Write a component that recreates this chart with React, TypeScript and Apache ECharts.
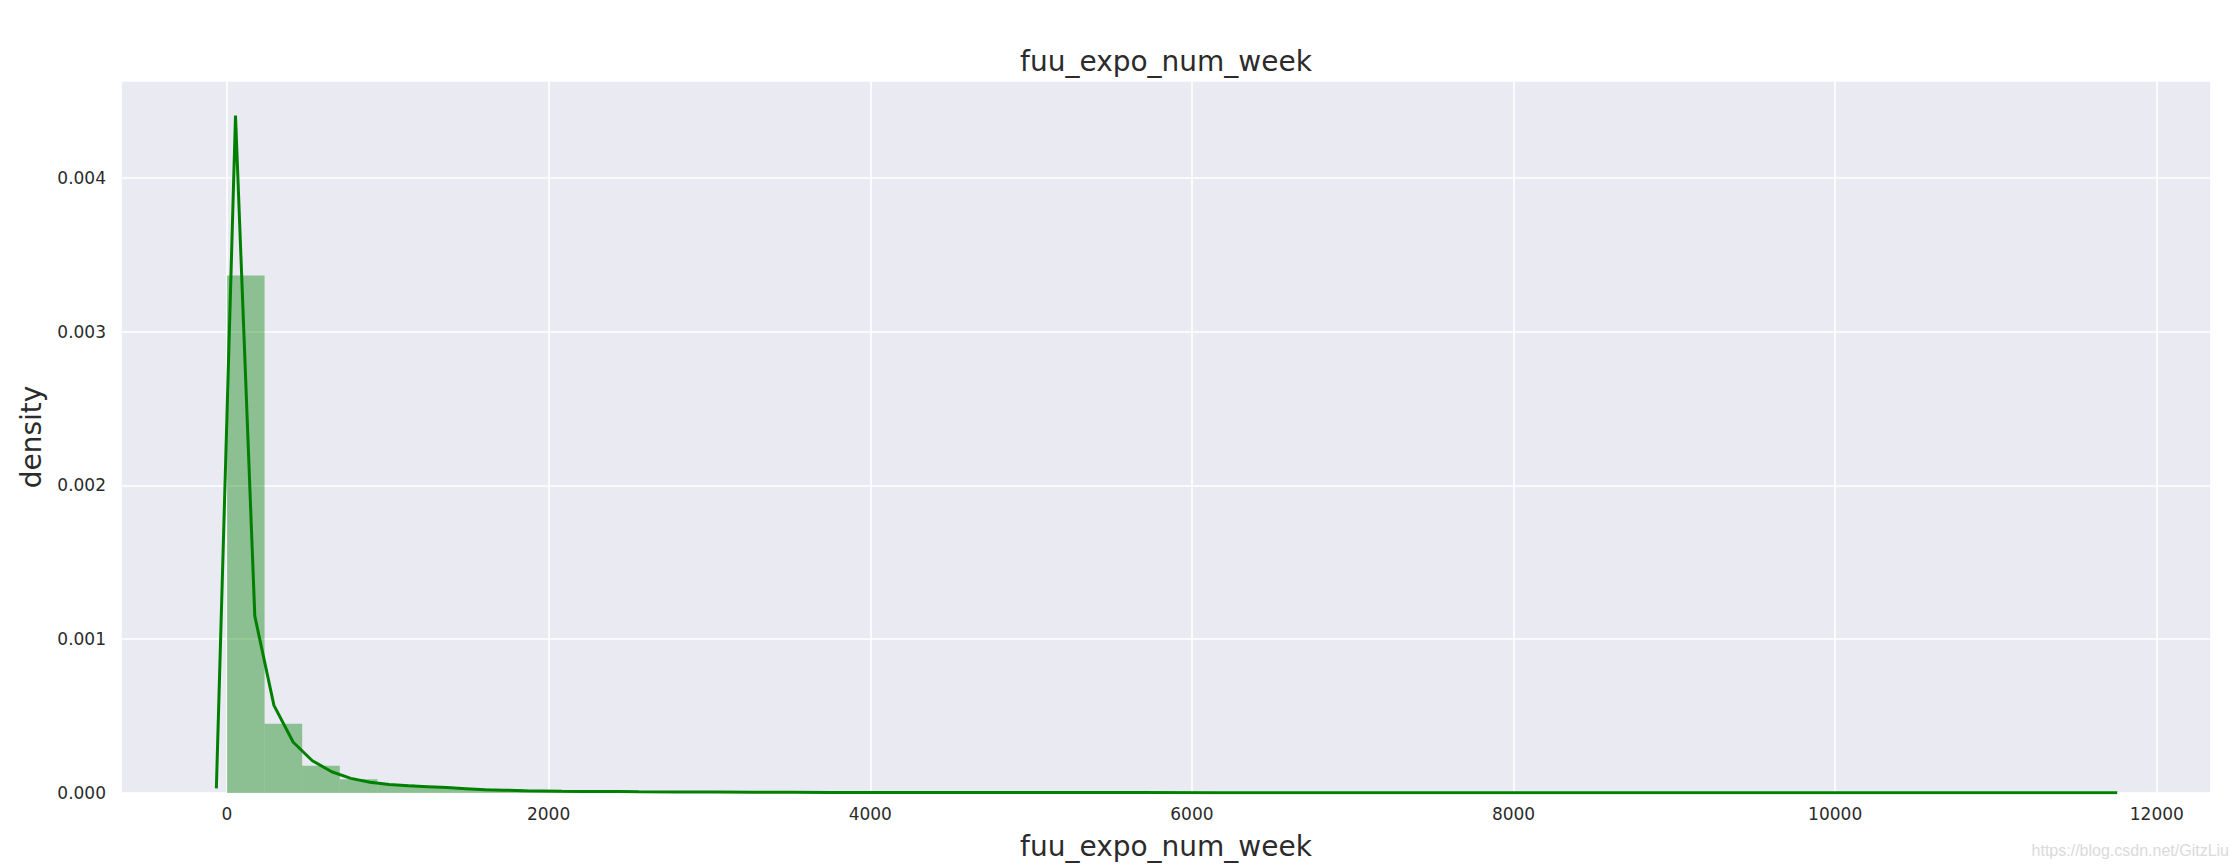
import React, { useEffect, useRef } from 'react';
import * as echarts from 'echarts';

// ---- data ----
const titleText = 'fuu_expo_num_week';
const xLabelText = 'fuu_expo_num_week';
const yLabelText = 'density';
const watermarkText = 'https://blog.csdn.net/GitzLiu';

// histogram: 50 equal bins starting at 0
const binStart = 0;
const binWidth = 233.76;
const histDensity = [
  0.003365, 0.00045, 0.000178, 0.00009, 0.000056, 0.00004, 0.00003, 0.000024, 0.000019, 0.000016,
  0.000013, 0.000011, 0.00001, 0.000009, 0.000008, 0.000007, 0.000006, 0.000006, 0.000005, 0.000005,
  0.000004, 0.000004, 0.000004, 0.000003, 0.000003, 0.000003, 0.000003, 0.000002, 0.000002, 0.000002,
  0.000002, 0.000002, 0.000002, 0.000002, 0.000001, 0.000001, 0.000001, 0.000001, 0.000001, 0.000001,
  0.000001, 0.000001, 0.000001, 0.000001, 0.000001, 0.000001, 0.000001, 0.000001, 0.000001, 0.000001,
];

// kernel density estimate curve
const kdeX = [
  -66, 53, 173, 292, 412, 531, 651, 770, 889, 1009, 1128, 1248, 1367, 1486, 1606, 1725, 1845, 1964,
  2083, 2203, 2322, 2442, 2561, 2800, 3039, 3278, 3516, 3755, 4233, 4710, 5188, 5665, 6143, 6620,
  7098, 7575, 8053, 8530, 9008, 9485, 9963, 10440, 10918, 11395, 11754,
];
const kdeY = [
  0.00003, 0.004405, 0.00115, 0.00057, 0.00033, 0.00021, 0.000138, 0.000095, 0.00007, 0.000055,
  0.000047, 0.000041, 0.000035, 0.000028, 0.000021, 0.000018, 0.000015, 0.000013, 0.000011, 0.00001,
  0.000009, 0.00001, 0.000008, 0.000007, 0.000006, 0.000005, 0.000005, 0.000004, 0.000004, 0.000003,
  0.000003, 0.000003, 0.000002, 0.000002, 0.000002, 0.000002, 0.000002, 0.000002, 0.000001, 0.000001,
  0.000001, 0.000001, 0.000001, 0.000001, 0.000001,
];

const xMin = -659;
const xMax = 12337;
const yMax = 0.00463;

export default function App() {
  const ref = useRef<HTMLDivElement>(null);

  useEffect(() => {
    const chart = echarts.init(ref.current as HTMLDivElement, null, { renderer: 'svg' });
    const histData = histDensity.map((d, i) => [
      binStart + i * binWidth,
      binStart + (i + 1) * binWidth,
      d,
    ]);
    const kdeData = kdeX.map((x, i) => [x, kdeY[i]]);
    const font = 'DejaVu Sans';
    const left = 121;
    const right = 2211;
    const top = 81;
    const bottom = 793;
    const textColor = '#2b2b2b';

    chart.setOption({
      animation: false,
      backgroundColor: '#ffffff',
      grid: {
        left: left,
        top: top,
        width: right - left,
        height: bottom - top,
        show: true,
        backgroundColor: '#EAEAF2',
        borderWidth: 0,
      },
      xAxis: {
        type: 'value',
        min: xMin,
        max: xMax,
        splitNumber: 6,
        minInterval: 2000,
        maxInterval: 2000,
        axisLine: { show: false },
        axisTick: { show: false },
        axisLabel: {
          showMinLabel: false,
          showMaxLabel: false,
          margin: 12,
          color: textColor,
          fontFamily: font,
          fontSize: 17,
          formatter: (v: number) => (v % 2000 === 0 ? String(v) : ''),
        },
        splitLine: { show: true, lineStyle: { color: '#ffffff', width: 1.6 } },
      },
      yAxis: {
        type: 'value',
        min: 0,
        max: yMax,
        interval: 0.001,
        axisLine: { show: false },
        axisTick: { show: false },
        axisLabel: {
          showMaxLabel: false,
          margin: 15,
          color: textColor,
          fontFamily: font,
          fontSize: 17,
          formatter: (v: number) => v.toFixed(3),
        },
        splitLine: { show: true, lineStyle: { color: '#ffffff', width: 1.6 } },
      },
      series: [
        {
          type: 'custom',
          data: histData,
          encode: { x: [0, 1], y: 2 },
          clip: true,
          renderItem: (params: any, api: any) => {
            const p0 = api.coord([api.value(0), api.value(2)]);
            const p1 = api.coord([api.value(1), 0]);
            return {
              type: 'rect',
              shape: { x: p0[0], y: p0[1], width: p1[0] - p0[0], height: p1[1] - p0[1] },
              style: { fill: '#008000', opacity: 0.4 },
            };
          },
          z: 2,
        },
        {
          type: 'line',
          data: kdeData,
          showSymbol: false,
          symbol: 'none',
          lineStyle: { color: '#008000', width: 3 },
          z: 3,
        },
      ],
      graphic: [
        {
          type: 'text',
          x: (left + right) / 2,
          y: 61,
          style: {
            text: titleText,
            fontFamily: font,
            fontSize: 28,
            fill: textColor,
            align: 'center',
            verticalAlign: 'middle',
          },
        },
        {
          type: 'text',
          x: (left + right) / 2,
          y: 846,
          style: {
            text: xLabelText,
            fontFamily: font,
            fontSize: 28,
            fill: textColor,
            align: 'center',
            verticalAlign: 'middle',
          },
        },
        {
          type: 'text',
          x: 31,
          y: (top + bottom) / 2,
          rotation: Math.PI / 2,
          style: {
            text: yLabelText,
            fontFamily: font,
            fontSize: 28,
            fill: textColor,
            align: 'center',
            verticalAlign: 'middle',
          },
        },
        {
          type: 'text',
          x: 2229,
          y: 850,
          style: {
            text: watermarkText,
            fontFamily: 'Liberation Sans',
            fontSize: 16,
            fill: '#dadada',
            align: 'right',
            verticalAlign: 'middle',
          },
        },
      ],
    });

    return () => chart.dispose();
  }, []);

  return (
    <div
      ref={ref}
      style={{ position: 'fixed', left: 0, top: 0, width: 2237, height: 868, background: '#fff' }}
    />
  );
}
